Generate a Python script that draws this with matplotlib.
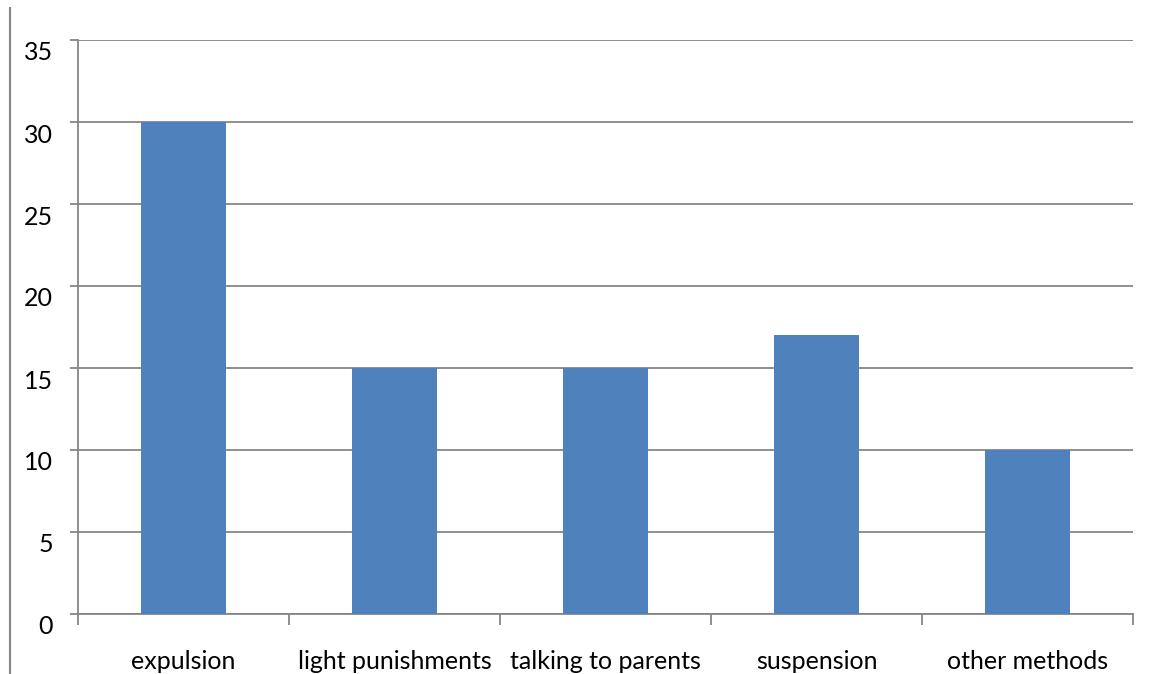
import matplotlib.pyplot as plt
import matplotlib.transforms as mtransforms
from matplotlib.lines import Line2D
import numpy as np

# Responses by disciplinary method
methods = ['expulsion', 'light punishments', 'talking to parents', 'suspension', 'other methods']
counts = [30, 15, 15, 17, 10]

plt.rcParams['font.family'] = ['Lato', 'DejaVu Sans']

fig = plt.figure(figsize=(11.52, 6.74), dpi=100)
ax = fig.add_axes([78 / 1152, 1 - 614 / 674, (1133 - 78) / 1152, (614 - 40) / 674])

grid_col = '#868686'
x = np.arange(len(methods))
ax.bar(x, counts, width=0.40, color='#4F81BD', zorder=3)

ax.set_xlim(-0.5, len(methods) - 0.5)
ax.set_ylim(0, 35)
ax.set_yticks(range(0, 36, 5))
ax.yaxis.grid(True, color=grid_col, linewidth=1.3)
ax.set_axisbelow(True)

# category labels at centres, tick marks at the boundaries
ax.set_xticks(x)
ax.set_xticklabels(methods, fontsize=18)
ax.set_xticks(np.arange(-0.5, len(methods), 1), minor=True)
ax.tick_params(axis='x', which='major', length=0, pad=26)
ax.tick_params(axis='x', which='minor', length=8, width=1.3, color=grid_col, direction='out')
ax.tick_params(axis='y', length=6, width=1.3, color=grid_col, pad=12, labelsize=18)

# y labels sit a little below their gridlines
shift = mtransforms.ScaledTranslation(0, -11 / 100, fig.dpi_scale_trans)
for lbl in ax.get_yticklabels():
    lbl.set_transform(lbl.get_transform() + shift)

for side in ['top', 'right']:
    ax.spines[side].set_visible(False)
for side in ['left', 'bottom']:
    ax.spines[side].set_color(grid_col)
    ax.spines[side].set_linewidth(1.3)

# thin frame line along the left edge
fig.add_artist(Line2D([9.5 / 1152, 9.5 / 1152], [0, 1 - 8 / 674], color=grid_col, linewidth=1.5))

fig.savefig('out.png', dpi=100)
